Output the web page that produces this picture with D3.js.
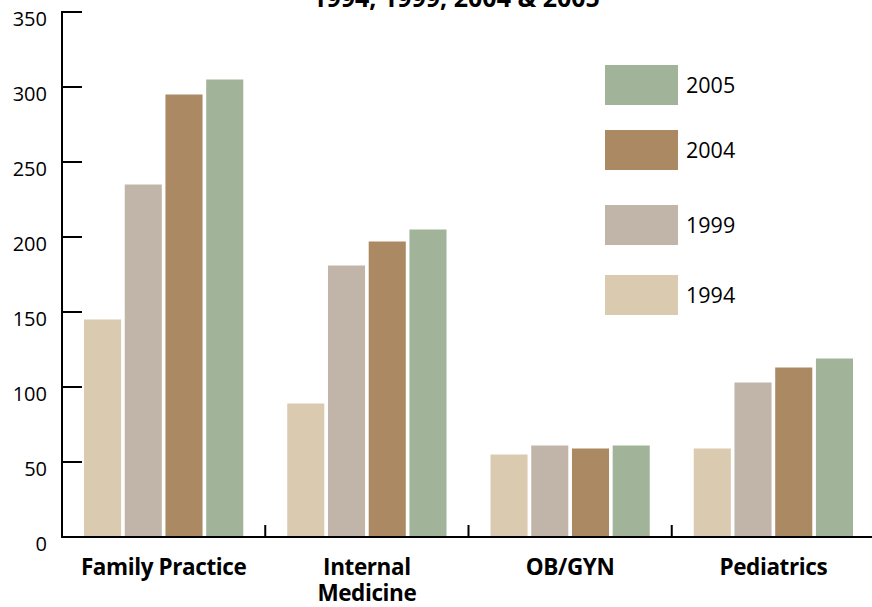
<!DOCTYPE html>
<html>
<head>
<meta charset="utf-8">
<script src="https://cdn.jsdelivr.net/npm/d3@7"></script>
<style>
  body { margin: 0; background: #fff; }
  svg { display: block; font-family: "Open Sans", sans-serif; }
</style>
</head>
<body>
<div id="chart"></div>
<script>
const categories = ['Family Practice', 'Internal Medicine', 'OB/GYN', 'Pediatrics'];
const years = ['1994', '1999', '2004', '2005'];
const v1994 = [145, 89, 55, 59];
const v1999 = [235, 181, 61, 103];
const v2004 = [295, 197, 59, 113];
const v2005 = [305, 205, 61, 119];
const yTicks = [0, 50, 100, 150, 200, 250, 300, 350];
const titleText = '1994, 1999, 2004 & 2005';

const series = { '1994': v1994, '1999': v1999, '2004': v2004, '2005': v2005 };
const colors = { '1994': '#d9cab0', '1999': '#c1b5aa', '2004': '#ab8963', '2005': '#a1b499' };

const width = 872;
const height = 607;
const margin = { top: 12, bottom: 70, left: 62, right: -3 };

const svg = d3.select('#chart')
    .append('svg')
    .attr('width', width)
    .attr('height', height);

const x0 = d3.scaleBand()
    .domain(categories)
    .range([margin.left, width - margin.right])
    .padding(0);

const x1 = d3.scaleBand()
    .domain(years)
    .range([0, x0.bandwidth()])
    .paddingInner(0.09)
    .paddingOuter(0.54);

const y = d3.scaleLinear()
    .domain([0, 350])
    .range([height - margin.bottom, margin.top]);

// title (its upper part runs off the top, as in the original)
svg.append('text')
    .attr('x', 456)
    .attr('y', 7)
    .attr('text-anchor', 'middle')
    .attr('font-weight', 'bold')
    .attr('font-size', 25)
    .text(titleText);

// bars
const rows = categories.map((c, i) => ({ cat: c, vals: years.map(yr => ({ yr, v: series[yr][i] })) }));

svg.append('g')
    .selectAll('g')
    .data(rows)
    .join('g')
        .attr('transform', d => `translate(${x0(d.cat)},0)`)
    .selectAll('rect')
    .data(d => d.vals)
    .join('rect')
        .attr('x', d => x1(d.yr))
        .attr('y', d => y(d.v))
        .attr('width', x1.bandwidth())
        .attr('height', d => y(0) - y(d.v))
        .attr('fill', d => colors[d.yr]);

// y axis
const yAxis = svg.append('g');
yAxis.append('line')
    .attr('x1', margin.left).attr('x2', margin.left)
    .attr('y1', y(350) - 1).attr('y2', y(0) + 1)
    .attr('stroke', '#000').attr('stroke-width', 2);
yAxis.selectAll('line.tick')
    .data(yTicks.filter(t => t > 0))
    .join('line')
        .attr('class', 'tick')
        .attr('x1', margin.left).attr('x2', margin.left + 20)
        .attr('y1', d => y(d)).attr('y2', d => y(d))
        .attr('stroke', '#000').attr('stroke-width', 2);
yAxis.selectAll('text')
    .data(yTicks)
    .join('text')
        .attr('x', 47)
        .attr('y', d => y(d) + 14)
        .attr('text-anchor', 'end')
        .attr('font-size', 20)
        .text(d => d);

// x axis
const xAxis = svg.append('g');
xAxis.append('line')
    .attr('x1', margin.left - 1).attr('x2', width)
    .attr('y1', y(0)).attr('y2', y(0))
    .attr('stroke', '#000').attr('stroke-width', 2);
xAxis.selectAll('line.sep')
    .data(categories.slice(1))
    .join('line')
        .attr('class', 'sep')
        .attr('x1', d => x0(d)).attr('x2', d => x0(d))
        .attr('y1', y(0)).attr('y2', y(0) - 12)
        .attr('stroke', '#000').attr('stroke-width', 2);

const labelLines = { 'Internal Medicine': ['Internal', 'Medicine'] };
xAxis.selectAll('text')
    .data(categories)
    .join('text')
        .attr('text-anchor', 'middle')
        .attr('font-weight', 'bold')
        .attr('font-size', 22.5)
        .attr('letter-spacing', -0.4)
        .each(function(d) {
            const lines = labelLines[d] || [d];
            d3.select(this).selectAll('tspan')
                .data(lines)
                .join('tspan')
                    .attr('x', x0(d) + x0.bandwidth() / 2)
                    .attr('y', (l, i) => 575 + i * 26)
                    .text(l => l);
        });

// legend
const legendYears = ['2005', '2004', '1999', '1994'];
const legendTop = [65, 130, 205, 275];
const legend = svg.append('g')
    .selectAll('g')
    .data(legendYears)
    .join('g')
        .attr('transform', (d, i) => `translate(605,${legendTop[i]})`);
legend.append('rect')
    .attr('width', 73)
    .attr('height', 40)
    .attr('fill', d => colors[d]);
legend.append('text')
    .attr('x', 81)
    .attr('y', 20)
    .attr('dy', '0.35em')
    .attr('font-size', 21.5)
    .text(d => d);
</script>
</body>
</html>
